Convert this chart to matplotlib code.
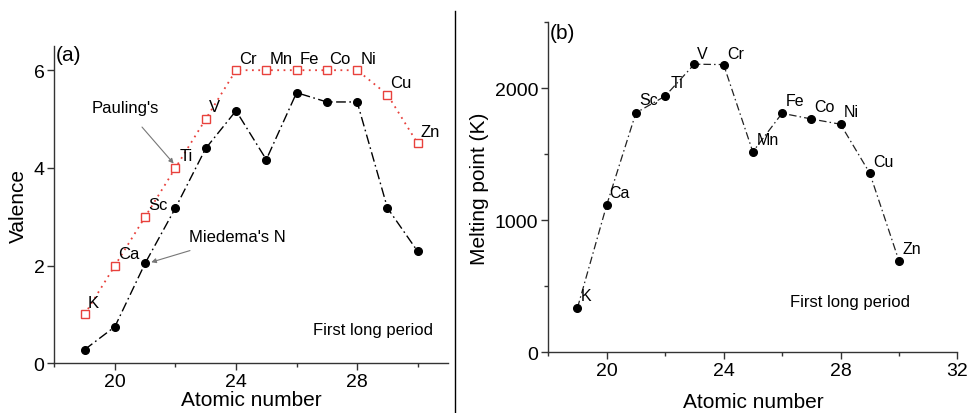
#!/usr/bin/env python3
"""Valence and melting point across the first long period (K..Zn)."""
import matplotlib
matplotlib.use('Agg')
import matplotlib.pyplot as plt
from matplotlib.lines import Line2D
from matplotlib.ticker import MultipleLocator

plt.rcParams['font.family'] = ['Liberation Sans', 'DejaVu Sans']

ELEMENTS = ['K', 'Ca', 'Sc', 'Ti', 'V', 'Cr', 'Mn', 'Fe', 'Co', 'Ni', 'Cu', 'Zn']
Z = [19, 20, 21, 22, 23, 24, 25, 26, 27, 28, 29, 30]
PAULING = [1, 2, 3, 4, 5, 6, 6, 6, 6, 6, 5.5, 4.5]
MIEDEMA_N = [0.28, 0.75, 2.05, 3.18, 4.40, 5.17, 4.17, 5.54, 5.35, 5.35, 3.18, 2.29]
MELTING = [336, 1115, 1814, 1941, 2183, 2180, 1519, 1811, 1768, 1728, 1358, 693]

# label offsets (dx, dy) relative to the plotted point, data units
LBL_A = [(0.28, 0.25), (0.46, 0.24), (0.42, 0.26), (0.36, 0.26), (0.29, 0.26),
         (0.38, 0.24), (0.48, 0.24), (0.41, 0.24), (0.42, 0.24), (0.36, 0.24),
         (0.43, 0.25), (0.41, 0.24)]
LBL_B = [(0.29, 95), (0.45, 95), (0.45, 100), (0.39, 105), (0.28, 80),
         (0.42, 85), (0.52, 95), (0.43, 95), (0.46, 95), (0.37, 100),
         (0.48, 90), (0.44, 95)]

FS_TICK = 14
FS_LABEL = 15
FS_TXT = 12


def style_axes(ax):
    for s in ('top', 'right'):
        ax.spines[s].set_visible(False)
    for s in ('left', 'bottom'):
        ax.spines[s].set_color('#333333')
        ax.spines[s].set_linewidth(1.0)
    ax.tick_params(which='major', direction='out', length=5, width=1,
                   labelsize=FS_TICK, color='#333333', pad=2)
    ax.tick_params(which='minor', direction='out', length=3, width=1,
                   color='#333333')


fig = plt.figure(figsize=(9.72, 4.14), dpi=100)

# ---- (a) valence ----
ax1 = fig.add_axes([0.0559, 0.120, 0.405, 0.767])
ax1.plot(Z, PAULING, linestyle=(0, (1, 2.5)), color='#e8413c', linewidth=1.3,
         marker='s', markersize=5.3, markerfacecolor='white',
         markeredgecolor='#e8413c', markeredgewidth=1.0)
ax1.plot(Z, MIEDEMA_N, linestyle=(0, (7, 2.5, 1.2, 2.5)), color='black', linewidth=1.0,
         marker='o', markersize=5.5, markerfacecolor='black',
         markeredgecolor='black')
for i, el in enumerate(ELEMENTS):
    dx, dy = LBL_A[i]
    ax1.text(Z[i] + dx, PAULING[i] + dy, el, ha='center', va='center', fontsize=FS_TXT)
ax1.set_xlim(18, 31)
ax1.set_ylim(0, 6.5)
ax1.set_xticks([20, 24, 28])
ax1.xaxis.set_minor_locator(MultipleLocator(2))
ax1.yaxis.set_major_locator(MultipleLocator(2))
ax1.set_xlabel('Atomic number', fontsize=FS_LABEL, labelpad=0)
ax1.set_ylabel('Valence', fontsize=FS_LABEL, labelpad=4)
style_axes(ax1)
ax1.text(18.46, 6.33, '(a)', ha='center', va='center', fontsize=FS_LABEL)
ax1.text(28.52, 0.69, 'First long period', ha='center', va='center', fontsize=FS_TXT)
ax1.annotate("Pauling's", xy=(21.94, 4.09), xytext=(20.33, 5.24),
             ha='center', va='center', fontsize=FS_TXT,
             arrowprops=dict(arrowstyle='-|>', color='#777777', lw=0.8,
                             mutation_scale=7, shrinkA=9, shrinkB=0))
ax1.annotate("Miedema's N", xy=(21.2, 2.07), xytext=(24.05, 2.6),
             ha='center', va='center', fontsize=FS_TXT,
             arrowprops=dict(arrowstyle='-|>', color='#777777', lw=0.8,
                             mutation_scale=7, shrinkA=10, shrinkB=0))

# ---- (b) melting point ----
ax2 = fig.add_axes([0.564, 0.1466, 0.421, 0.797])
ax2.plot(Z, MELTING, linestyle=(0, (6, 2.5, 1.2, 2.5)), color='#222222', linewidth=0.9,
         marker='o', markersize=5.5, markerfacecolor='black',
         markeredgecolor='black')
for i, el in enumerate(ELEMENTS):
    dx, dy = LBL_B[i]
    ax2.text(Z[i] + dx, MELTING[i] + dy, el, ha='center', va='center',
             fontsize=FS_TXT - 0.5)
ax2.set_xlim(18, 32)
ax2.set_ylim(0, 2500)
ax2.set_xticks([20, 24, 28, 32])
ax2.xaxis.set_minor_locator(MultipleLocator(2))
ax2.set_yticks([0, 1000, 2000])
ax2.yaxis.set_minor_locator(MultipleLocator(500))
ax2.set_xlabel('Atomic number', fontsize=FS_LABEL, labelpad=9)
ax2.set_ylabel('Melting point (K)', fontsize=FS_LABEL, labelpad=4)
style_axes(ax2)
ax2.text(18.49, 2421, '(b)', ha='center', va='center', fontsize=FS_LABEL)
ax2.text(28.31, 386, 'First long period', ha='center', va='center', fontsize=FS_TXT)

# divider between panels
fig.add_artist(Line2D([0.468, 0.468], [0.0, 0.971], color='black', lw=1.0,
                      transform=fig.transFigure))

fig.savefig('out.png', dpi=100, facecolor='white')
